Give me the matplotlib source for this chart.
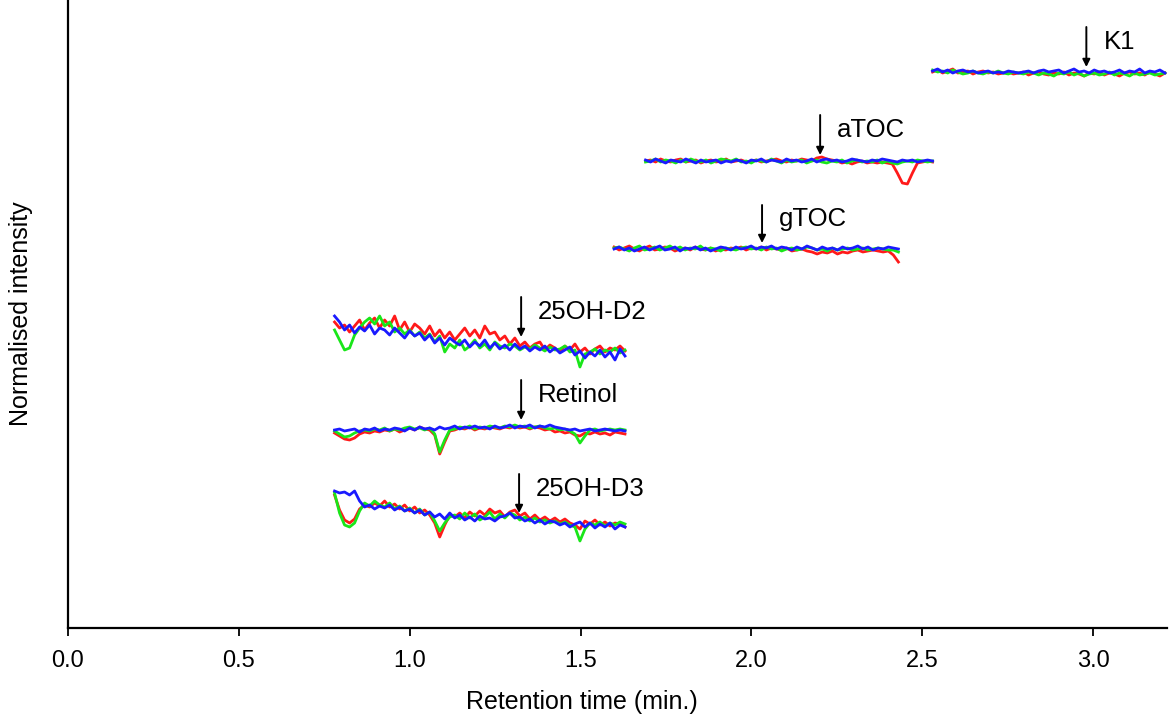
import numpy as np
import matplotlib
matplotlib.use('Agg')
from matplotlib import pyplot as plt

plt.rcParams['font.family'] = ['Liberation Sans', 'DejaVu Sans']

# trace ranges (min.) and vertical offsets (stacked chromatograms)
d_range = (0.78, 1.63)
gtoc_range = (1.598, 2.43)
atoc_range = (1.69, 2.53)
k1_range = (2.53, 3.21)

offsets = {'25OH-D2': 288, 'Retinol': 198, '25OH-D3': 113,
           'gTOC': 379, 'aTOC': 467, 'K1': 556}

# relative intensities (red, green, blue runs)
d2_red = [18, 12, 15, 8, 14, 20, 10, 17, 22, 12, 20, 14, 24, 10, 18, 8, 16, 12, 6, 14,
          4, 10, 2, 8, 0, 6, 12, 4, 10, 2, 14, 6, 8, 0, 4, -4, 2, -6, -2, -8,
          -4, -2, -10, -5, -8, -12, -6, -10, -4, -12, -8, -14, -9, -6, -12, -8, -10, -6, -11]
d2_green = [10, 0, -10, -8, 5, 12, 18, 22, 16, 24, 14, 18, 8, 12, 6, 10, 4, 8, 2, 6,
            -2, 4, -12, -4, -8, 0, -10, -6, 0, -8, -4, -10, -2, -6, -8, -4, -6, -10, -7, -9,
            -5, -8, -11, -7, -10, -9, -6, -12, -10, -27, -14, -12, -9, -14, -10, -12, -8, -13, -10]
d2_blue = [24, 18, 10, 15, 7, 13, 9, 15, 6, 12, 10, 5, 12, 7, 2, 9, 4, 7, 0, 5,
           -3, 2, -5, 2, -2, -5, 0, -7, -2, -6, 0, -8, -3, -9, -5, -10, -4, -9, -6, -11,
           -7, -10, -6, -12, -8, -13, -10, -7, -15, -11, -18, -12, -16, -10, -17, -12, -20, -9, -16]

ret_red = [-3, -6, -9, -10, -8, -4, -2, -3, -1, -2, 0, -1, 1, -2, 0, 2, 0, 3, 1, 0,
           -5, -24, -12, -1, 0, 2, 1, 3, 0, 2, 1, 3, 2, 1, 3, 2, 4, 2, 3, 1,
           3, 2, 0, 1, -2, -1, -3, -2, -5, -6, -3, -4, -2, -4, -3, -5, -2, -3, -4]
ret_green = [-1, -4, -7, -6, -3, -1, 0, -1, 1, 0, 2, -1, 1, 0, 2, 3, 1, 2, 0, 2,
             -4, -22, -10, 0, 1, 3, 2, 4, 1, 3, 2, 4, 3, 2, 4, 3, 5, 3, 4, 2,
             3, 4, 2, 1, 2, 0, 1, -1, -4, -13, -6, 0, 1, -1, 0, 1, 0, 1, 0]
ret_blue = [0, 1, -1, 0, 1, -2, 1, 0, 2, -1, 1, 0, 2, 1, -1, 2, 0, 3, 1, 2,
            0, 3, 1, 2, 4, 1, 3, 2, 4, 2, 3, 1, 4, 2, 3, 5, 2, 4, 3, 5,
            2, 4, 3, 5, 3, 2, 1, 0, 1, -1, 0, 1, -1, 0, 1, 0, -1, 0, -1]

d3_red = [20, 5, -5, -8, -4, 6, 10, 8, 12, 9, 14, 8, 11, 6, 10, 4, 8, 2, 5, 0,
          -8, -22, -10, 0, -2, 2, -3, 3, -1, 4, 0, 6, 2, 4, -2, 3, 5, -1, 2, -4,
          0, -5, -2, -6, -3, -7, -4, -8, -10, -14, -6, -9, -5, -10, -7, -11, -8, -9, -12]
d3_green = [22, 2, -10, -12, -8, 4, 12, 9, 14, 10, 8, 12, 6, 9, 4, 7, 2, 6, 0, 3,
            -6, -16, -8, -2, 0, -4, 2, -3, 1, -5, -2, 3, -4, 1, -3, 2, 0, -5, -2, -6,
            -3, -7, -5, -8, -6, -9, -7, -10, -12, -26, -14, -8, -10, -7, -11, -8, -10, -7, -9]
d3_blue = [24, 22, 23, 20, 24, 14, 8, 10, 6, 9, 7, 10, 5, 8, 4, 6, 2, 5, 0, 3,
           -2, 1, -4, 2, -3, 0, -5, -2, -6, -1, -4, -3, -6, -2, -1, 2, -3, -2, -6, -4,
           -8, -5, -9, -6, -7, -10, -8, -12, -9, -7, -12, -8, -13, -9, -12, -8, -14, -10, -12]

gtoc_red = [2, -1, 1, 3, 0, -2, 1, 3, -1, 0, 2, 1, -2, 0, 1, -1, 2, 0, -1, 1,
            -2, 0, -1, 1, 0, 2, -1, 1, 0, 2, -1, 1, 0, -1, 1, -2, -1, 0, -2, -3,
            -5, -3, -4, -2, -5, -3, -4, -2, -1, -3, -2, -1, -2, -3, -2, -6, -13]
gtoc_green = [1, 2, 0, -2, 1, 3, -1, 0, 2, -1, 1, 3, 0, 2, -1, 1, 0, 3, -1, 1,
              0, -2, 1, 0, -1, 1, 2, 0, 1, -1, 2, 0, 1, -2, 0, 1, -1, 0, 2, 1,
              -1, 0, -2, 1, -1, 0, 1, -1, 0, 1, -1, 0, 1, 0, -1, -1, -3]
gtoc_blue = [0, 2, -1, 1, -2, 0, 2, -1, 1, 3, -1, 0, 2, -2, 1, 0, 2, -1, 1, -2,
             0, 2, 1, -1, 2, 0, 1, 3, 0, 2, 1, 3, 0, 2, 1, -1, 2, 0, 3, 1,
             -1, 2, 0, 1, -1, 2, 0, 1, 3, 0, 2, -1, 1, 0, 2, 1, 0]

atoc_red = [0, 1, -1, 2, 0, -1, 1, 2, -1, 0, 1, -2, 0, 1, -1, 0, 2, -1, 0, 1,
            -1, 0, 1, -1, 0, 1, 2, 0, -1, 1, 0, 2, 1, 0, 3, 4, 2, 1, 0, -2,
            -1, -3, -1, 0, -2, -1, -2, -1, -2, -3, -12, -22, -23, -12, -2, -1, 0, -1]
atoc_green = [-1, 0, 2, -1, 1, 0, -2, 1, -1, 2, 0, -1, 1, -2, 0, 2, 1, 0, 2, -1,
              0, -2, 1, 0, -1, 2, 0, -2, 1, -1, 0, 1, -2, 0, 1, -1, -2, 0, -1, 1,
              -2, 0, 1, -1, 0, -1, 1, -2, 0, -2, -3, -1, 0, -1, 1, 0, -1, 0]
atoc_blue = [1, -1, 2, 0, -2, 1, 0, -1, 2, 0, -2, 1, -1, 0, 1, -2, 0, -1, 1, 0,
             -2, 1, 0, 2, -1, 1, 0, -1, 2, 0, 1, -1, 0, 2, -1, 1, 2, 0, 1, -1,
             0, 2, 1, 0, -1, 1, 0, 2, 1, 0, -1, 1, 0, 1, -1, 0, 1, 0]

k1_red = [0, 2, -1, 1, 3, -1, 0, 1, -2, 0, 1, -1, 0, -2, -1, 0, -2, -1, 0, -3,
          -1, 0, -2, -3, -1, -2, 0, -3, -1, -2, -4, -1, -2, 0, -3, -1, -2, -4, -1, 0,
          -2, -1, -3, 0, -2, -4, -1]
k1_green = [2, 0, 1, -1, 2, 0, -2, -1, 1, -1, -2, 0, -1, 1, -1, -2, 0, -1, -2, 0,
            -1, -3, -1, -2, -4, -1, -2, 0, -3, -1, -4, -2, -1, -3, -2, 0, -3, -1, -2, -4,
            -1, -3, -2, -1, -3, -2, -1]
k1_blue = [1, 3, 0, 2, -1, 1, 2, 0, 1, -1, 0, 1, -1, 0, -1, 1, 0, -1, 0, 1,
           -1, 1, 2, 0, 1, 2, -1, 1, 3, 0, 1, -1, 2, 0, 1, -1, 0, 2, -1, 1,
           0, 3, -1, 1, 0, 2, -1]

traces = [
    ('25OH-D2', d_range, d2_red, d2_green, d2_blue),
    ('Retinol', d_range, ret_red, ret_green, ret_blue),
    ('25OH-D3', d_range, d3_red, d3_green, d3_blue),
    ('gTOC', gtoc_range, gtoc_red, gtoc_green, gtoc_blue),
    ('aTOC', atoc_range, atoc_red, atoc_green, atoc_blue),
    ('K1', k1_range, k1_red, k1_green, k1_blue),
]

# arrow x position (min.) for each compound
peak_times = {'K1': 2.98, 'aTOC': 2.201, 'gTOC': 2.031,
              '25OH-D2': 1.326, 'Retinol': 1.326, '25OH-D3': 1.32}
# arrow tail / tip heights
arrow_y = {'K1': (601, 561), 'aTOC': (513, 473), 'gTOC': (423, 385),
           '25OH-D2': (331, 291), 'Retinol': (248, 208), '25OH-D3': (154, 115)}

fig = plt.figure(figsize=(11.73, 7.15), dpi=100)
ax = fig.add_axes([68/1173, 87/715, 1099/1173, 628/715])

colors = ['#ff1a1a', '#19e619', '#1a1aff']
for name, (x0, x1), r, g, b in traces:
    for vals, c in zip((r, g, b), colors):
        x = np.linspace(x0, x1, len(vals))
        ax.plot(x, np.array(vals) + offsets[name], color=c, lw=2.0)

for name in peak_times:
    xp = peak_times[name]
    ytail, ytip = arrow_y[name]
    ax.annotate('', xy=(xp, ytip), xytext=(xp, ytail),
                arrowprops=dict(arrowstyle='-|>', color='black', lw=1.4,
                                mutation_scale=11, shrinkA=0, shrinkB=0))
    ax.text(xp + 0.05, (ytail + ytip) / 2 + 5, name, fontsize=18.5,
            ha='left', va='center')

ax.set_xlim(0, 3.216)
ax.set_ylim(0, 628)
ax.set_xticks([0.0, 0.5, 1.0, 1.5, 2.0, 2.5, 3.0])
ax.set_xticklabels(['0.0', '0.5', '1.0', '1.5', '2.0', '2.5', '3.0'])
ax.set_yticks([])
ax.tick_params(axis='x', labelsize=17, length=6, width=1.3, pad=10)
for s in ['top', 'right']:
    ax.spines[s].set_visible(False)
for s in ['left', 'bottom']:
    ax.spines[s].set_linewidth(1.6)
ax.set_xlabel('Retention time (min.)', fontsize=18)
ax.xaxis.set_label_coords(0.468, -0.098)
ax.set_ylabel('Normalised intensity', fontsize=18)
ax.yaxis.set_label_coords(-0.032, 0.5)

fig.savefig('out.png', dpi=100)
